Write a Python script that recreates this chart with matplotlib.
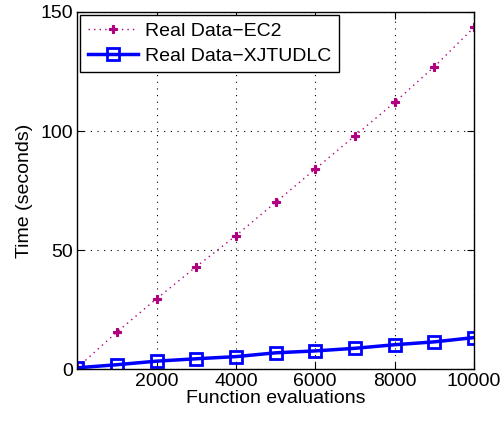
import numpy as np
import matplotlib.pyplot as plt

plt.rcParams['font.family'] = ['Liberation Sans', 'DejaVu Sans']

evals = [0, 1000, 2000, 3000, 4000, 5000, 6000, 7000, 8000, 9000, 10000]
ec2 = [0.5, 15.5, 29.5, 43, 56, 70, 84, 98, 112, 127, 143.5]
xjtudlc = [0.5, 1.8, 3.3, 4.3, 5.2, 6.8, 7.6, 8.7, 10.2, 11.4, 13.2]
xticks = [2000, 4000, 6000, 8000, 10000]
yticks = [0, 50, 100, 150]

fig = plt.figure(figsize=(5.01, 4.21), dpi=100)
ax = fig.add_axes([0.154, 0.1235, 0.792, 0.848])

ax.plot(evals, ec2, color='#b0007f', linestyle=(0, (1, 3)), linewidth=1.0,
        marker='P', markersize=6, markeredgewidth=0.8, label='Real Data\u2212EC2')
ax.plot(evals, xjtudlc, color='#0000ff', linestyle='-', linewidth=2.5,
        marker='s', markersize=9, markerfacecolor='none', markeredgewidth=2,
        label='Real Data\u2212XJTUDLC')

ax.set_xlim(0, 10000)
ax.set_ylim(0, 150)
ax.set_xticks(xticks)
ax.set_yticks(yticks)
ax.grid(True, color='black', linestyle=(0, (1, 5)), linewidth=0.8)
ax.tick_params(direction='in', labelsize=14, top=True, right=True, length=5, pad=3)
for s in ax.spines.values():
    s.set_linewidth(1)
ax.set_xlabel('Function evaluations', fontsize=14, labelpad=0)
ax.set_ylabel('Time (seconds)', fontsize=14, labelpad=5)

leg = ax.legend(loc='upper left', fontsize=14, fancybox=False, framealpha=1,
                edgecolor='black', borderaxespad=0.15, handlelength=2.6,
                handletextpad=0.35, labelspacing=0.35, borderpad=0.4)
leg.get_frame().set_linewidth(1)

fig.savefig('out.png', dpi=100)
